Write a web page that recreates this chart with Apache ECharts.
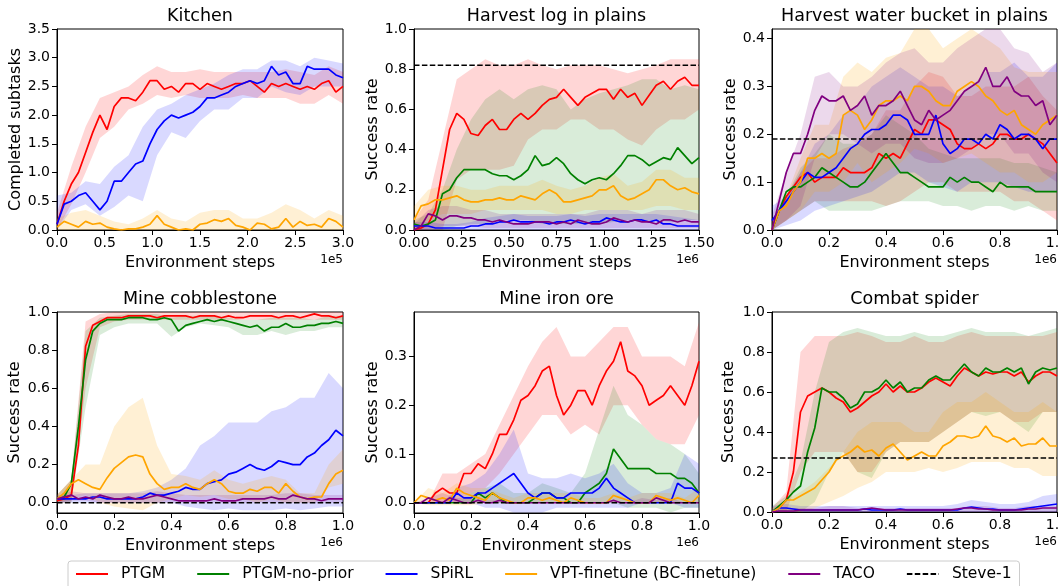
<!DOCTYPE html>
<html><head><meta charset="utf-8">
<script src="https://cdn.jsdelivr.net/npm/echarts@6/dist/echarts.min.js"></script>
<style>html,body{margin:0;padding:0;background:#fff}#c{width:1058px;height:586px}</style>
</head><body><div id="c"></div>
<script>
// ---------------- DATA ----------------
const SERIES_NAMES = ['PTGM','PTGM-no-prior','SPiRL','VPT-finetune (BC-finetune)','TACO','Steve-1'];
const TITLES = ['Kitchen','Harvest log in plains','Harvest water bucket in plains','Mine cobblestone','Mine iron ore','Combat spider'];

// sample positions (x) for mean curves and for the shaded bands
const kX = [0,0.075,0.15,0.225,0.3,0.375,0.45,0.525,0.6,0.675,0.75,0.825,0.9,0.975,1.05,1.125,1.2,1.275,1.35,1.425,1.5,1.575,1.65,1.725,1.8,1.875,1.95,2.025,2.1,2.175,2.25,2.325,2.4,2.475,2.55,2.625,2.7,2.775,2.85,2.925,3];
const kBX = [0,0.15,0.3,0.45,0.6,0.75,0.9,1.05,1.2,1.35,1.5,1.65,1.8,1.95,2.1,2.25,2.4,2.55,2.7,2.85,3];
const hX = [0,0.0375,0.075,0.1125,0.15,0.1875,0.225,0.2625,0.3,0.3375,0.375,0.4125,0.45,0.4875,0.525,0.5625,0.6,0.6375,0.675,0.7125,0.75,0.7875,0.825,0.8625,0.9,0.9375,0.975,1.0125,1.05,1.0875,1.125,1.1625,1.2,1.2375,1.275,1.3125,1.35,1.3875,1.425,1.4625,1.5];
const hBX = [0,0.075,0.15,0.225,0.3,0.375,0.45,0.525,0.6,0.675,0.75,0.825,0.9,0.975,1.05,1.125,1.2,1.275,1.35,1.425,1.5];
const uX = [0,0.025,0.05,0.075,0.1,0.125,0.15,0.175,0.2,0.225,0.25,0.275,0.3,0.325,0.35,0.375,0.4,0.425,0.45,0.475,0.5,0.525,0.55,0.575,0.6,0.625,0.65,0.675,0.7,0.725,0.75,0.775,0.8,0.825,0.85,0.875,0.9,0.925,0.95,0.975,1];
const uBX = [0,0.05,0.1,0.15,0.2,0.25,0.3,0.35,0.4,0.45,0.5,0.55,0.6,0.65,0.7,0.75,0.8,0.85,0.9,0.95,1];

// tick labels
const kXTicks = [0,0.5,1,1.5,2,2.5,3];
const kYTicks = [0,0.5,1,1.5,2,2.5,3,3.5];
const hXTicks = [0,0.25,0.5,0.75,1,1.25,1.5];
const rateTicks = [0,0.2,0.4,0.6,0.8,1];
const uXTicks = [0,0.2,0.4,0.6,0.8,1];
const wYTicks = [0,0.1,0.2,0.3,0.4];
const iYTicks = [0,0.1,0.2,0.3];

// 1) Kitchen
const k_ptgm  = [0.1,0.5,0.8,1.0,1.35,1.7,2.0,1.75,2.15,2.3,2.3,2.25,2.4,2.6,2.6,2.45,2.5,2.4,2.55,2.55,2.45,2.55,2.5,2.45,2.5,2.55,2.55,2.6,2.5,2.4,2.55,2.5,2.55,2.5,2.45,2.5,2.45,2.55,2.6,2.4,2.5];
const k_spirl = [0.1,0.45,0.5,0.6,0.65,0.5,0.35,0.5,0.85,0.85,1.0,1.15,1.2,1.5,1.75,1.9,2.0,1.95,2.0,2.05,2.15,2.3,2.3,2.35,2.4,2.5,2.55,2.6,2.55,2.6,2.85,2.7,2.75,2.55,2.55,2.85,2.8,2.8,2.8,2.7,2.65];
const k_vpt   = [0.05,0.15,0.1,0.05,0.15,0.1,0.12,0.05,0.02,0.0,0.02,0.02,0.05,0.1,0.25,0.1,0.05,0.0,0.02,0.0,0.1,0.12,0.18,0.15,0.2,0.08,0.05,0.0,0.12,0.1,0.02,0.05,0.2,0.05,0.15,0.08,0.1,0.05,0.2,0.15,0.05];
const k_ptgm_lo  = [0.0,0.45,1.0,1.6,1.8,2.1,2.2,2.35,2.3,2.35,2.3,2.3,2.3,2.35,2.3,2.3,2.3,2.2,2.2,2.35,2.2];
const k_ptgm_hi  = [0.3,1.1,1.8,2.3,2.4,2.5,2.7,2.85,2.75,2.75,2.8,2.75,2.75,2.75,2.75,2.75,2.8,2.75,2.7,2.85,2.75];
const k_spirl_lo = [0.0,0.35,0.45,0.25,0.4,0.6,0.5,1.3,1.7,1.6,1.9,2.1,2.1,2.3,2.3,2.5,2.4,2.35,2.5,2.5,2.5];
const k_spirl_hi = [0.6,0.65,0.85,0.8,1.1,1.3,1.8,2.1,2.2,2.35,2.45,2.55,2.7,2.8,2.8,2.95,2.95,2.85,3.0,2.95,2.9];
const k_vpt_lo   = [0,0,0,0,0,0,0,0,0,0,0,0,0,0,0,0,0,0,0,0,0];
const k_vpt_hi   = [0.2,0.3,0.35,0.25,0.15,0.1,0.2,0.35,0.2,0.15,0.3,0.35,0.35,0.2,0.2,0.3,0.45,0.35,0.2,0.35,0.25];

// 2) Harvest log in plains
const h_ptgm  = [0.0,0.01,0.03,0.1,0.3,0.5,0.58,0.55,0.48,0.47,0.52,0.55,0.5,0.5,0.55,0.58,0.55,0.58,0.62,0.65,0.66,0.7,0.66,0.62,0.66,0.68,0.7,0.7,0.65,0.7,0.66,0.68,0.62,0.67,0.72,0.74,0.7,0.74,0.76,0.72,0.72];
const h_nop   = [0.03,0.02,0.03,0.05,0.18,0.2,0.26,0.3,0.3,0.3,0.3,0.28,0.27,0.27,0.25,0.27,0.3,0.37,0.32,0.33,0.36,0.33,0.28,0.25,0.23,0.25,0.26,0.25,0.28,0.32,0.37,0.37,0.35,0.32,0.34,0.36,0.35,0.41,0.37,0.33,0.36];
const h_spirl = [0.02,0.02,0.02,0.01,0.01,0.01,0.01,0.01,0.02,0.02,0.03,0.03,0.04,0.04,0.05,0.04,0.04,0.04,0.04,0.03,0.04,0.04,0.05,0.04,0.03,0.04,0.04,0.06,0.05,0.04,0.04,0.05,0.05,0.04,0.05,0.03,0.03,0.02,0.02,0.02,0.02];
const h_vpt   = [0.05,0.12,0.13,0.15,0.15,0.16,0.17,0.15,0.14,0.14,0.15,0.15,0.16,0.15,0.15,0.17,0.16,0.15,0.18,0.2,0.18,0.14,0.14,0.15,0.16,0.17,0.2,0.2,0.22,0.17,0.15,0.16,0.18,0.2,0.25,0.25,0.22,0.2,0.21,0.19,0.18];
const h_taco  = [0.0,0.02,0.08,0.07,0.05,0.07,0.07,0.06,0.06,0.05,0.05,0.04,0.05,0.04,0.03,0.03,0.03,0.04,0.04,0.04,0.03,0.04,0.03,0.05,0.04,0.03,0.03,0.04,0.06,0.05,0.04,0.05,0.04,0.04,0.03,0.05,0.05,0.04,0.05,0.04,0.04];
const h_steve = 0.82;
const h_ptgm_lo  = [0,0,0,0.25,0.3,0.3,0.3,0.32,0.45,0.5,0.5,0.55,0.55,0.5,0.5,0.45,0.42,0.5,0.55,0.55,0.6];
const h_ptgm_hi  = [0.05,0.15,0.45,0.75,0.8,0.85,0.82,0.82,0.85,0.82,0.8,0.82,0.82,0.82,0.8,0.78,0.8,0.82,0.85,0.85,0.85];
const h_nop_lo   = [0,0,0,0.02,0.03,0.03,0.05,0.05,0.05,0.03,0.03,0.03,0.03,0.03,0.04,0.05,0.04,0.05,0.04,0.05,0.05];
const h_nop_hi   = [0.05,0.08,0.2,0.4,0.55,0.65,0.7,0.65,0.7,0.72,0.7,0.6,0.65,0.68,0.7,0.72,0.75,0.75,0.7,0.72,0.7];
const h_spirl_lo = [0,0,0,0,0,0,0,0,0,0,0,0,0,0,0,0,0,0,0,0,0];
const h_spirl_hi = [0.04,0.04,0.03,0.03,0.04,0.06,0.07,0.08,0.07,0.07,0.07,0.08,0.07,0.08,0.08,0.08,0.08,0.08,0.07,0.06,0.05];
const h_vpt_lo   = [0,0.05,0.08,0.08,0.08,0.1,0.1,0.1,0.1,0.1,0.08,0.08,0.1,0.1,0.1,0.1,0.1,0.12,0.12,0.1,0.1];
const h_vpt_hi   = [0.12,0.2,0.22,0.22,0.2,0.2,0.22,0.22,0.22,0.25,0.22,0.2,0.22,0.26,0.28,0.22,0.24,0.3,0.3,0.26,0.26];
const h_taco_lo  = [0,0,0.02,0.02,0.02,0.01,0.01,0.01,0.01,0.01,0.01,0.01,0.01,0.01,0.01,0.01,0.01,0.01,0.01,0.01,0.01];
const h_taco_hi  = [0.03,0.1,0.12,0.12,0.1,0.1,0.08,0.08,0.08,0.08,0.08,0.08,0.08,0.1,0.1,0.1,0.08,0.1,0.1,0.1,0.08];

// 3) Harvest water bucket in plains
const w_ptgm  = [0.0,0.04,0.07,0.09,0.11,0.12,0.1,0.11,0.11,0.11,0.13,0.12,0.12,0.12,0.13,0.16,0.15,0.16,0.15,0.18,0.21,0.2,0.23,0.23,0.22,0.21,0.18,0.17,0.17,0.18,0.17,0.18,0.2,0.2,0.19,0.19,0.2,0.19,0.18,0.16,0.14];
const w_nop   = [0.0,0.04,0.08,0.09,0.09,0.1,0.11,0.13,0.12,0.11,0.1,0.09,0.09,0.1,0.12,0.14,0.16,0.14,0.12,0.12,0.11,0.1,0.09,0.09,0.09,0.11,0.1,0.11,0.1,0.1,0.09,0.08,0.1,0.09,0.09,0.09,0.09,0.08,0.08,0.08,0.08];
const w_spirl = [0.02,0.04,0.06,0.08,0.1,0.12,0.11,0.11,0.12,0.13,0.15,0.17,0.18,0.2,0.21,0.21,0.22,0.24,0.24,0.23,0.2,0.2,0.2,0.24,0.18,0.16,0.17,0.19,0.19,0.18,0.2,0.19,0.22,0.21,0.19,0.2,0.2,0.19,0.17,0.19,0.19];
const w_vpt   = [0.0,0.04,0.05,0.08,0.1,0.15,0.15,0.16,0.15,0.16,0.24,0.25,0.24,0.21,0.23,0.26,0.27,0.27,0.28,0.27,0.3,0.3,0.29,0.27,0.26,0.26,0.29,0.3,0.31,0.3,0.28,0.27,0.25,0.24,0.25,0.22,0.21,0.2,0.22,0.23,0.24];
const w_taco  = [0.0,0.06,0.12,0.16,0.16,0.2,0.25,0.28,0.27,0.27,0.28,0.25,0.26,0.28,0.24,0.26,0.26,0.27,0.29,0.26,0.23,0.22,0.25,0.23,0.24,0.25,0.27,0.29,0.3,0.31,0.34,0.3,0.3,0.32,0.29,0.28,0.28,0.26,0.27,0.22,0.24];
const w_steve = 0.19;
const w_ptgm_lo  = [0.0,0.02,0.04,0.06,0.06,0.06,0.06,0.06,0.05,0.06,0.08,0.1,0.1,0.08,0.08,0.08,0.08,0.06,0.06,0.04,0.02];
const w_ptgm_hi  = [0.02,0.07,0.12,0.15,0.15,0.17,0.18,0.2,0.25,0.25,0.3,0.33,0.32,0.28,0.28,0.3,0.3,0.3,0.32,0.28,0.25];
const w_nop_lo   = [0.0,0.02,0.04,0.06,0.04,0.04,0.04,0.04,0.05,0.06,0.06,0.06,0.05,0.05,0.04,0.05,0.05,0.04,0.05,0.04,0.04];
const w_nop_hi   = [0.02,0.07,0.13,0.16,0.2,0.18,0.18,0.2,0.24,0.22,0.2,0.17,0.16,0.15,0.15,0.15,0.15,0.14,0.14,0.13,0.12];
const w_spirl_lo = [0.0,0.01,0.02,0.04,0.05,0.06,0.07,0.08,0.1,0.12,0.12,0.1,0.09,0.08,0.1,0.1,0.1,0.09,0.08,0.08,0.08];
const w_spirl_hi = [0.05,0.07,0.12,0.18,0.2,0.24,0.26,0.3,0.32,0.34,0.32,0.3,0.3,0.28,0.3,0.33,0.33,0.35,0.32,0.32,0.35];
const w_vpt_lo   = [0.0,0.02,0.04,0.08,0.08,0.1,0.14,0.1,0.12,0.14,0.17,0.16,0.14,0.15,0.16,0.14,0.12,0.12,0.1,0.1,0.12];
const w_vpt_hi   = [0.02,0.07,0.15,0.22,0.22,0.32,0.35,0.33,0.36,0.37,0.42,0.42,0.38,0.4,0.42,0.4,0.38,0.34,0.33,0.33,0.33];
const w_taco_lo  = [0.0,0.02,0.05,0.15,0.2,0.2,0.18,0.16,0.18,0.18,0.15,0.14,0.14,0.15,0.17,0.2,0.2,0.16,0.16,0.12,0.1];
const w_taco_hi  = [0.03,0.12,0.2,0.32,0.33,0.3,0.3,0.32,0.35,0.37,0.38,0.35,0.35,0.38,0.4,0.42,0.42,0.38,0.37,0.33,0.35];

// 4) Mine cobblestone
const c_ptgm  = [0.01,0.02,0.04,0.3,0.82,0.93,0.95,0.97,0.97,0.97,0.98,0.98,0.98,0.98,0.97,0.98,0.98,0.98,0.98,0.97,0.98,0.98,0.98,0.97,0.98,0.97,0.97,0.98,0.98,0.98,0.98,0.97,0.98,0.98,0.97,0.98,0.99,0.98,0.98,0.97,0.98];
const c_nop   = [0.02,0.03,0.1,0.4,0.75,0.9,0.94,0.96,0.96,0.96,0.97,0.97,0.97,0.96,0.96,0.97,0.96,0.9,0.93,0.94,0.95,0.96,0.95,0.96,0.95,0.94,0.93,0.92,0.93,0.9,0.92,0.92,0.94,0.92,0.92,0.93,0.93,0.94,0.94,0.95,0.94];
const c_spirl = [0.02,0.02,0.02,0.02,0.02,0.03,0.03,0.02,0.02,0.02,0.02,0.02,0.03,0.05,0.04,0.04,0.05,0.06,0.08,0.07,0.07,0.1,0.11,0.12,0.15,0.16,0.18,0.2,0.18,0.17,0.19,0.22,0.21,0.2,0.2,0.24,0.26,0.3,0.33,0.38,0.35];
const c_vpt   = [0.02,0.05,0.1,0.12,0.1,0.08,0.07,0.13,0.18,0.21,0.24,0.25,0.24,0.15,0.1,0.07,0.08,0.08,0.1,0.08,0.07,0.1,0.12,0.1,0.06,0.05,0.05,0.07,0.06,0.08,0.08,0.05,0.1,0.06,0.03,0.02,0.03,0.03,0.1,0.15,0.17];
const c_taco  = [0.02,0.03,0.04,0.02,0.03,0.02,0.04,0.03,0.02,0.02,0.03,0.02,0.02,0.03,0.04,0.03,0.02,0.01,0.01,0.01,0.01,0.01,0.02,0.01,0.01,0.01,0.02,0.02,0.02,0.02,0.03,0.02,0.02,0.04,0.03,0.02,0.02,0.01,0.02,0.02,0.02];
const c_steve = 0.0;
const c_ptgm_lo  = [0,0,0.6,0.92,0.95,0.96,0.96,0.96,0.96,0.96,0.96,0.96,0.96,0.96,0.96,0.96,0.96,0.96,0.96,0.96,0.96];
const c_ptgm_hi  = [0.04,0.12,0.95,0.99,1,1,1,1,1,1,1,1,1,1,1,1,1,1,1,1,1];
const c_nop_lo   = [0,0,0.5,0.88,0.92,0.94,0.94,0.94,0.87,0.92,0.94,0.93,0.92,0.88,0.88,0.9,0.88,0.9,0.9,0.92,0.92];
const c_nop_hi   = [0.04,0.12,0.9,0.97,0.98,0.99,0.99,0.99,0.97,0.98,0.98,0.98,0.97,0.96,0.96,0.97,0.97,0.97,0.96,0.98,0.98];
const c_spirl_lo = [0,0,0,0,0,0,0,0,0,-0.02,-0.03,-0.04,-0.03,-0.04,-0.04,-0.04,-0.03,-0.04,-0.03,-0.02,-0.02];
const c_spirl_hi = [0.04,0.04,0.05,0.05,0.05,0.05,0.06,0.08,0.12,0.18,0.3,0.35,0.42,0.42,0.42,0.48,0.5,0.55,0.55,0.68,0.6];
const c_vpt_lo   = [0,0.02,0.04,0,-0.02,-0.03,-0.04,0,0.02,0.04,0.03,0.04,0.02,0.02,0,0.02,0,0,0,0.08,0.1];
const c_vpt_hi   = [0.04,0.12,0.2,0.2,0.4,0.5,0.55,0.3,0.15,0.14,0.12,0.17,0.12,0.1,0.12,0.14,0.12,0.05,0.05,0.2,0.28];
const c_taco_lo  = [0,0.01,0.01,0,0,0,0,0,0,0,0,0,0,0,0,0,0,0,0,0,0];
const c_taco_hi  = [0.03,0.06,0.05,0.05,0.05,0.05,0.05,0.06,0.05,0.04,0.04,0.04,0.04,0.04,0.04,0.04,0.05,0.05,0.04,0.04,0.04];

// 5) Mine iron ore
const i_ptgm  = [0,0,0,0.02,0.03,0.02,0.02,0.06,0.06,0.08,0.07,0.1,0.14,0.14,0.17,0.21,0.22,0.24,0.27,0.28,0.22,0.18,0.2,0.23,0.23,0.2,0.24,0.27,0.29,0.33,0.27,0.26,0.24,0.2,0.21,0.22,0.24,0.22,0.2,0.24,0.29];
const i_nop   = [0,0,0,0,0,0,0,0,0,0.02,0.01,0.02,0.01,0,0,0,0,0.01,0.02,0.02,0.01,0.01,0,0,0.02,0.03,0.04,0.06,0.11,0.09,0.07,0.07,0.07,0.07,0.06,0.06,0.06,0.05,0.05,0.04,0.02];
const i_spirl = [0,0,0,0,0,0,0.02,0.01,0.01,0.02,0.02,0.03,0.04,0.05,0.06,0.04,0.02,0.01,0.02,0.02,0.01,0.01,0.02,0.02,0.02,0.02,0.03,0.05,0.03,0.02,0.01,0,0,0,0,0,0,0.04,0.03,0.03,0.02];
const i_vpt   = [0,0.015,0.01,0.005,0.01,0.005,0.03,0.02,0.015,0.01,0.005,0.02,0.01,0.005,0,0,0.01,0.01,0.005,0.01,0.005,0,0.01,0.005,0,0,0,0,0.015,0.01,0.005,0,0,0,0.015,0.01,0.005,0.01,0.005,0,0.015];
const i_taco  = [0,0,0.01,0.005,0,0.01,0.005,0,0,0.005,0,0,0.005,0,0,0,0,0,0,0,0,0,0,0,0,0,0,0,0.005,0,0,0,0,0,0.01,0.005,0,0,0,0,0];
const i_steve = 0.0;
const i_ptgm_lo  = [0,0,0,0,0.02,0.03,0.06,0.1,0.14,0.18,0.18,0.14,0.16,0.14,0.2,0.2,0.16,0.13,0.12,0.12,0.18];
const i_ptgm_hi  = [0,0,0.06,0.06,0.08,0.1,0.16,0.22,0.28,0.33,0.36,0.3,0.3,0.33,0.36,0.36,0.3,0.3,0.3,0.28,0.37];
const i_nop_lo   = [0,0,0,0,0,0,0,0,0,0,0,0,0,0,0,-0.01,-0.01,-0.01,-0.02,-0.01,-0.01];
const i_nop_hi   = [0,0,0,0,0.02,0.03,0.04,0.02,0.02,0.04,0.03,0.02,0.06,0.15,0.24,0.18,0.16,0.13,0.12,0.1,0.06];
const i_spirl_lo = [0,0,0,0,0,-0.01,-0.01,-0.02,-0.02,-0.02,-0.01,-0.01,-0.01,-0.01,-0.01,-0.01,0,0,0,-0.01,-0.01];
const i_spirl_hi = [0,0,0,0.03,0.04,0.06,0.1,0.15,0.06,0.05,0.05,0.06,0.05,0.06,0.08,0.04,0.02,0.02,0.03,0.1,0.08];
const i_vpt_lo   = [0,-0.005,-0.005,-0.005,-0.005,0,0,0,0,0,0,0,0,0,0,0,0,0,0,0,0];
const i_vpt_hi   = [0,0.03,0.02,0.04,0.03,0.03,0.02,0.01,0.02,0.02,0.02,0.02,0.01,0.01,0.02,0.01,0.02,0.02,0.02,0.01,0.03];
const i_taco_lo  = [0,0,0,0,0,0,0,0,0,0,0,0,0,0,0,0,0,0,0,0,0];
const i_taco_hi  = [0,0.01,0.02,0.01,0.01,0.005,0.005,0,0,0,0,0,0,0,0.005,0,0.01,0.005,0.01,0,0];

// 6) Combat spider
const s_ptgm  = [0.0,0.02,0.06,0.2,0.5,0.58,0.6,0.62,0.6,0.57,0.55,0.5,0.52,0.55,0.58,0.6,0.64,0.6,0.63,0.6,0.6,0.62,0.65,0.67,0.65,0.63,0.68,0.72,0.7,0.68,0.7,0.69,0.7,0.7,0.68,0.7,0.65,0.68,0.7,0.7,0.68];
const s_nop   = [0.0,0.03,0.06,0.1,0.13,0.3,0.42,0.62,0.6,0.6,0.57,0.52,0.54,0.6,0.6,0.62,0.66,0.62,0.65,0.6,0.62,0.62,0.66,0.68,0.66,0.66,0.7,0.74,0.7,0.68,0.72,0.7,0.7,0.72,0.7,0.72,0.64,0.7,0.72,0.71,0.72];
const s_spirl = [0.0,0.02,0.02,0.015,0.01,0.01,0.01,0.01,0.01,0.01,0.01,0.01,0.01,0.015,0.01,0.01,0.01,0.01,0.015,0.01,0.01,0.01,0.01,0.01,0.01,0.01,0.01,0.02,0.025,0.02,0.015,0.015,0.01,0.01,0.01,0.015,0.02,0.025,0.03,0.035,0.04];
const s_vpt   = [0.0,0.02,0.06,0.06,0.08,0.1,0.12,0.16,0.2,0.26,0.28,0.3,0.33,0.3,0.31,0.28,0.32,0.34,0.3,0.26,0.28,0.3,0.28,0.28,0.33,0.35,0.38,0.38,0.37,0.38,0.43,0.38,0.37,0.35,0.37,0.33,0.34,0.34,0.37,0.33,0.33];
const s_taco  = [0.0,0.005,0.005,0.005,0.01,0.01,0.01,0.01,0.01,0.01,0.01,0.01,0.01,0.015,0.02,0.015,0.01,0.01,0.01,0.01,0.01,0.01,0.01,0.01,0.01,0.01,0.015,0.02,0.02,0.015,0.015,0.01,0.01,0.01,0.01,0.01,0.015,0.015,0.02,0.02,0.02];
const s_steve = 0.27;
const s_ptgm_lo  = [0,0,0.2,0.3,0.3,0.3,0.2,0.2,0.3,0.35,0.35,0.35,0.4,0.45,0.5,0.5,0.5,0.45,0.45,0.5,0.5];
const s_ptgm_hi  = [0.02,0.1,0.8,0.88,0.88,0.88,0.9,0.88,0.85,0.85,0.88,0.85,0.85,0.88,0.9,0.88,0.88,0.88,0.88,0.88,0.9];
const s_nop_lo   = [0,0,0,0.05,0.2,0.3,0.2,0.17,0.3,0.35,0.35,0.35,0.4,0.45,0.5,0.48,0.5,0.45,0.4,0.5,0.5];
const s_nop_hi   = [0.03,0.08,0.25,0.6,0.85,0.9,0.92,0.9,0.88,0.88,0.9,0.88,0.88,0.9,0.92,0.9,0.9,0.9,0.88,0.9,0.92];
const s_spirl_lo = [0,0,0,0,0,0,0,0,0,0,0,0,0,0,0,0,0,0,0,0,0];
const s_spirl_hi = [0.03,0.04,0.03,0.03,0.03,0.03,0.03,0.03,0.03,0.03,0.03,0.03,0.03,0.04,0.06,0.05,0.04,0.04,0.05,0.08,0.09];
const s_vpt_lo   = [0,0,0,0.02,0.05,0.08,0.12,0.15,0.2,0.2,0.2,0.22,0.2,0.22,0.25,0.25,0.25,0.22,0.22,0.18,0.18];
const s_vpt_hi   = [0.02,0.06,0.1,0.15,0.22,0.3,0.4,0.45,0.45,0.45,0.4,0.4,0.5,0.55,0.55,0.6,0.55,0.5,0.5,0.55,0.5];
const s_taco_lo  = [0,0,0,0,0,0,0,0,0,0,0,0,0,0,0,0,0,0,0,0,0];
const s_taco_hi  = [0.01,0.02,0.02,0.02,0.03,0.03,0.02,0.02,0.02,0.02,0.02,0.02,0.02,0.02,0.03,0.03,0.02,0.02,0.03,0.03,0.03];

// ---------------- STYLE / LAYOUT ----------------
const FONT = 'DejaVu Sans';
const LINE_COLORS = {'PTGM':'#ff0000','PTGM-no-prior':'#008000','SPiRL':'#0000ff','VPT-finetune (BC-finetune)':'#ffa500','TACO':'#800080'};
const BAND_COLORS = {'PTGM':'rgba(255,0,0,0.16)','PTGM-no-prior':'rgba(0,128,0,0.15)','SPiRL':'rgba(0,0,255,0.15)','VPT-finetune (BC-finetune)':'rgba(255,165,0,0.17)','TACO':'rgba(128,0,128,0.15)'};
const GRIDS = [
  {left:57, top:29, width:286, height:201},
  {left:414, top:29, width:285, height:201},
  {left:772, top:29, width:285, height:201},
  {left:57, top:312, width:286, height:201},
  {left:414, top:312, width:285, height:201},
  {left:772, top:312, width:285, height:200}
];

const panels = [
  {x:kX, bx:kBX, xmax:3, xTicks:kXTicks, xDec:1, ymin:0, ymax:3.5, yTicks:kYTicks, steve:null, exp:'1e5', yName:'Completed subtasks',
   s:[['PTGM',k_ptgm,k_ptgm_lo,k_ptgm_hi],['SPiRL',k_spirl,k_spirl_lo,k_spirl_hi],['VPT-finetune (BC-finetune)',k_vpt,k_vpt_lo,k_vpt_hi]]},
  {x:hX, bx:hBX, xmax:1.5, xTicks:hXTicks, xDec:2, ymin:0, ymax:1.0, yTicks:rateTicks, steve:h_steve, exp:'1e6', yName:'Success rate',
   s:[['PTGM',h_ptgm,h_ptgm_lo,h_ptgm_hi],['PTGM-no-prior',h_nop,h_nop_lo,h_nop_hi],['SPiRL',h_spirl,h_spirl_lo,h_spirl_hi],['VPT-finetune (BC-finetune)',h_vpt,h_vpt_lo,h_vpt_hi],['TACO',h_taco,h_taco_lo,h_taco_hi]]},
  {x:uX, bx:uBX, xmax:1, xTicks:uXTicks, xDec:1, ymin:0, ymax:0.42, yTicks:wYTicks, steve:w_steve, exp:'1e6', yName:'Success rate',
   s:[['PTGM',w_ptgm,w_ptgm_lo,w_ptgm_hi],['PTGM-no-prior',w_nop,w_nop_lo,w_nop_hi],['SPiRL',w_spirl,w_spirl_lo,w_spirl_hi],['VPT-finetune (BC-finetune)',w_vpt,w_vpt_lo,w_vpt_hi],['TACO',w_taco,w_taco_lo,w_taco_hi]]},
  {x:uX, bx:uBX, xmax:1, xTicks:uXTicks, xDec:1, ymin:-0.054, ymax:1.0, yTicks:rateTicks, steve:c_steve, exp:'1e6', yName:'Success rate',
   s:[['PTGM',c_ptgm,c_ptgm_lo,c_ptgm_hi],['PTGM-no-prior',c_nop,c_nop_lo,c_nop_hi],['SPiRL',c_spirl,c_spirl_lo,c_spirl_hi],['VPT-finetune (BC-finetune)',c_vpt,c_vpt_lo,c_vpt_hi],['TACO',c_taco,c_taco_lo,c_taco_hi]]},
  {x:uX, bx:uBX, xmax:1, xTicks:uXTicks, xDec:1, ymin:-0.021, ymax:0.391, yTicks:iYTicks, steve:i_steve, exp:'1e6', yName:'Success rate',
   s:[['PTGM',i_ptgm,i_ptgm_lo,i_ptgm_hi],['PTGM-no-prior',i_nop,i_nop_lo,i_nop_hi],['SPiRL',i_spirl,i_spirl_lo,i_spirl_hi],['VPT-finetune (BC-finetune)',i_vpt,i_vpt_lo,i_vpt_hi],['TACO',i_taco,i_taco_lo,i_taco_hi]]},
  {x:uX, bx:uBX, xmax:1, xTicks:uXTicks, xDec:1, ymin:0, ymax:1.0, yTicks:rateTicks, steve:s_steve, exp:'1e6', yName:'Success rate',
   s:[['PTGM',s_ptgm,s_ptgm_lo,s_ptgm_hi],['PTGM-no-prior',s_nop,s_nop_lo,s_nop_hi],['SPiRL',s_spirl,s_spirl_lo,s_spirl_hi],['VPT-finetune (BC-finetune)',s_vpt,s_vpt_lo,s_vpt_hi],['TACO',s_taco,s_taco_lo,s_taco_hi]]}
];

// ---------------- BUILD ----------------
function bandSeries(gi, xs, lo, hi, color) {
  const data = xs.map((x, i) => [x, lo[i], hi[i]]);
  return {
    type: 'custom', xAxisIndex: gi, yAxisIndex: gi, silent: true, clip: true, z: 1,
    data: data, encode: {x: 0, y: [1, 2]},
    renderItem: function (params, api) {
      if (params.dataIndex !== 0) return null;
      const up = data.map(d => api.coord([d[0], d[2]]));
      const dn = data.slice().reverse().map(d => api.coord([d[0], d[1]]));
      return {type: 'polygon', shape: {points: up.concat(dn)}, style: {fill: color}};
    }
  };
}
function lineSeries(gi, name, xs, ys) {
  return {type: 'line', name: name, xAxisIndex: gi, yAxisIndex: gi, symbol: 'none', silent: true, z: 3,
    data: xs.map((x, i) => [x, ys[i]]),
    lineStyle: {color: LINE_COLORS[name], width: 1.7}, itemStyle: {color: LINE_COLORS[name]}};
}

const grids = [], xAxes = [], yAxes = [], series = [], graphics = [];
const TXT = (text, x, y, size, extra) => Object.assign({type: 'text', x: x, y: y, z: 100, silent: true,
  style: {text: text, fill: '#000', fontSize: size, fontFamily: FONT, align: 'center', verticalAlign: 'middle'}}, extra || {});

panels.forEach((p, gi) => {
  const g = GRIDS[gi];
  grids.push(Object.assign({show: true, borderColor: '#000', borderWidth: 1, backgroundColor: 'transparent', containLabel: false, outerBoundsMode: 'none'}, g));
  xAxes.push({type: 'value', gridIndex: gi, min: 0, max: p.xmax,
    axisLine: {show: true, onZero: false, lineStyle: {color: '#000', width: 1}},
    axisTick: {show: true, inside: false, length: 5, lineStyle: {color: '#000'}, customValues: p.xTicks},
    axisLabel: {show: true, customValues: p.xTicks, margin: 6, color: '#000', fontSize: 14, fontFamily: FONT, formatter: v => v.toFixed(p.xDec)},
    splitLine: {show: false}});
  yAxes.push({type: 'value', gridIndex: gi, min: p.ymin, max: p.ymax,
    axisLine: {show: true, onZero: false, lineStyle: {color: '#000', width: 1}},
    axisTick: {show: true, inside: false, length: 5, lineStyle: {color: '#000'}, customValues: p.yTicks},
    axisLabel: {show: true, customValues: p.yTicks, margin: 7, color: '#000', fontSize: 14, fontFamily: FONT, formatter: v => v.toFixed(1)},
    splitLine: {show: false}});
  p.s.forEach(s => series.push(bandSeries(gi, p.bx, s[2], s[3], BAND_COLORS[s[0]])));
  p.s.forEach(s => series.push(lineSeries(gi, s[0], p.x, s[1])));
  if (p.steve !== null) {
    series.push({type: 'line', name: 'Steve-1', xAxisIndex: gi, yAxisIndex: gi, symbol: 'none', silent: true, z: 4,
      data: [[0, p.steve], [p.xmax, p.steve]],
      lineStyle: {color: '#000', width: 1.5, type: [5.5, 2.4]}, itemStyle: {color: '#000'}});
  }
  const cx = g.left + g.width / 2, cy = g.top + g.height / 2, bottom = g.top + g.height;
  graphics.push(TXT(TITLES[gi], cx, g.top - 13, 17.5));
  graphics.push(TXT('Environment steps', cx, bottom + 33, 16));
  graphics.push(TXT(p.exp, g.left + g.width, bottom + 30, 12, {style: {text: p.exp, fill: '#000', fontSize: 12, fontFamily: FONT, align: 'right', verticalAlign: 'middle'}}));
  const yNameX = [16, 373, 731, 15, 373, 729][gi];
  graphics.push(TXT(p.yName, yNameX, cy, 16, {rotation: Math.PI / 2}));
});

const chart = echarts.init(document.getElementById('c'), null, {renderer: 'canvas'});
chart.setOption({
  animation: false,
  backgroundColor: '#fff',
  grid: grids, xAxis: xAxes, yAxis: yAxes, series: series, graphic: graphics,
  legend: {
    data: SERIES_NAMES, left: 68, top: 561, orient: 'horizontal', selectedMode: false,
    itemWidth: 32, itemHeight: 16, itemGap: 31, padding: [5, 8, 8, 7],
    borderColor: '#cccccc', borderWidth: 1, borderRadius: 3, backgroundColor: '#fff',
    itemStyle: {color: 'transparent', borderColor: 'transparent', borderWidth: 0, opacity: 0},
    textStyle: {fontFamily: FONT, fontSize: 15.5, color: '#000', padding: [0, 0, 0, 8]}
  }
});
</script></body></html>
